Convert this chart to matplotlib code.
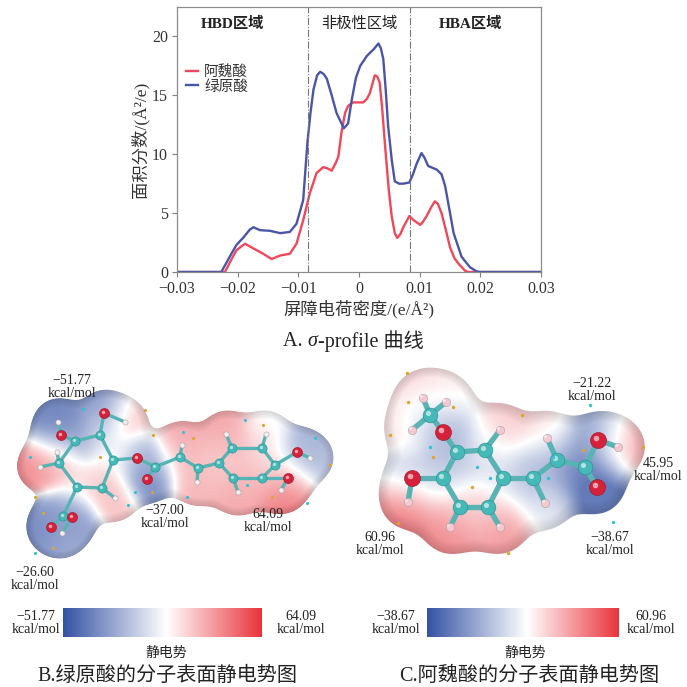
import numpy as np
import matplotlib.pyplot as plt
from matplotlib.colors import LinearSegmentedColormap, Normalize
from matplotlib.cm import ScalarMappable

plt.rcParams['font.family'] = ['Liberation Serif', 'Noto Sans CJK SC', 'DejaVu Sans']

# ---- sigma-profile data ----
sigma_cga = [-0.03, -0.0227, -0.0212, -0.0202, -0.0191, -0.0180, -0.0174, -0.0163, -0.0147,
             -0.0130, -0.0114, -0.0103, -0.0092, -0.0085, -0.0080, -0.0075, -0.0069, -0.0064,
             -0.0058, -0.0053, -0.0045, -0.0037, -0.0025, -0.0018, -0.0012, -0.0005, 0.0002,
             0.0013, 0.0024, 0.0032, 0.0036, 0.0040, 0.0044, 0.0048, 0.0054, 0.0059, 0.0066,
             0.0073, 0.0083, 0.0089, 0.0095, 0.0103, 0.0108, 0.0114, 0.0128, 0.0136, 0.0142,
             0.0149, 0.0156, 0.0169, 0.0183, 0.0194, 0.0200, 0.03]
area_cga = [0, 0, 1.4, 2.3, 2.9, 3.6, 3.8, 3.55, 3.5, 3.3, 3.4, 4.1, 6.1, 11.0, 13.5, 15.5,
            16.7, 17.0, 16.8, 16.4, 15.0, 13.5, 12.2, 12.6, 14.6, 16.5, 17.5, 18.35, 18.9,
            19.4, 19.0, 18.1, 15.5, 12.4, 9.5, 7.7, 7.5, 7.5, 7.6, 8.3, 9.2, 10.1, 9.7, 9.0,
            8.7, 8.3, 7.3, 5.3, 3.3, 1.3, 0.4, 0.05, 0, 0]

sigma_fa = [-0.03, -0.0221, -0.0212, -0.0202, -0.0188, -0.0174, -0.0158, -0.0144, -0.0130,
            -0.0114, -0.0103, -0.0092, -0.0081, -0.0070, -0.0059, -0.0052, -0.0045, -0.0038,
            -0.0034, -0.0029, -0.0023, -0.0018, -0.0010, -0.0004, 0.0007, 0.0013, 0.0018,
            0.0026, 0.0030, 0.0034, 0.0038, 0.0043, 0.0049, 0.0054, 0.0059, 0.0063, 0.0068,
            0.0073, 0.0083, 0.0090, 0.0101, 0.0106, 0.0112, 0.0119, 0.0125, 0.0130, 0.0136,
            0.0143, 0.0150, 0.0157, 0.0164, 0.0175, 0.0180, 0.03]
area_fa = [0, 0, 0.9, 1.85, 2.4, 2.0, 1.55, 1.1, 1.4, 1.55, 2.4, 4.4, 6.7, 8.4, 8.9, 8.8,
           8.6, 9.3, 9.8, 11.8, 13.5, 14.1, 14.4, 14.4, 14.4, 14.7, 15.2, 16.7, 16.6, 16.1,
           14.0, 10.7, 7.0, 4.7, 3.3, 2.9, 3.2, 3.8, 4.75, 4.4, 4.0, 4.3, 4.8, 5.5, 6.0, 5.8,
           5.0, 3.6, 2.1, 1.2, 0.7, 0.1, 0, 0]

hb_cut = 0.0084
xtick_vals = [-0.03, -0.02, -0.01, 0, 0.01, 0.02, 0.03]
xtick_text = ['\u22120.03', '\u22120.02', '\u22120.01', '0', '0.01', '0.02', '0.03']
ytick_vals = [0, 5, 10, 15, 20]

# ---- ESP surface data: element, x px, y px, potential kcal/mol ----
cga_el = ['O', 'H', 'C', 'O', 'H', 'C', 'C', 'H', 'H', 'C', 'C', 'H', 'C', 'C', 'O', 'O', 'H',
          'O', 'C', 'O', 'C', 'H', 'C', 'H', 'C', 'C', 'C', 'C', 'C', 'C', 'H', 'H', 'H',
          'O', 'H', 'O', 'H']
cga_x = [104, 125, 100, 61, 58, 75, 59, 40, 57, 77, 102, 115, 113, 63, 51, 72, 62,
         137, 155, 147, 180, 182, 198, 197, 219, 232, 262, 275, 262, 233, 226, 266, 238,
         297, 310, 288, 281]
cga_y = [413, 422, 435, 435, 422, 441, 463, 467, 452, 487, 488, 498, 460, 516, 527, 517, 533,
         458, 467, 479, 457, 445, 468, 482, 463, 448, 448, 465, 478, 478, 434, 434, 492,
         452, 458, 478, 490]
cga_esp = [-40, 30, -5, -52, -45, -35, 35, 50, 25, 15, 30, 30, 15, -30, -50, -40, -25,
           -20, -30, -50, 30, 40, 30, 35, 25, 30, 30, 15, 30, 30, 40, 5, 40,
           -30, -20, 30, 60]
cga_bonds = [(0, 1), (0, 2), (2, 5), (5, 3), (3, 4), (5, 6), (6, 7), (6, 8), (6, 9), (9, 10),
             (10, 11), (10, 12), (12, 2), (9, 13), (13, 14), (13, 15), (15, 16), (12, 17),
             (17, 18), (18, 19), (18, 20), (20, 21), (20, 22), (22, 23), (22, 24), (24, 25),
             (25, 26), (26, 27), (27, 28), (28, 29), (29, 24), (25, 30), (26, 31), (29, 32),
             (27, 33), (33, 34), (28, 35), (35, 36)]
cga_range = (-51.77, 64.09)

fa_el = ['C', 'H', 'H', 'H', 'O', 'C', 'C', 'C', 'C', 'C', 'C', 'O', 'H', 'H', 'H', 'H',
         'C', 'C', 'H', 'H', 'C', 'O', 'H', 'O']
fa_x = [430, 423, 412, 446, 443, 457, 485, 503, 488, 460, 443, 412, 408, 500, 450, 500,
        533, 557, 547, 545, 585, 598, 618, 597]
fa_y = [415, 398, 430, 402, 432, 452, 450, 478, 507, 507, 478, 478, 502, 430, 527, 527,
        478, 460, 438, 503, 467, 440, 447, 487]
fa_esp = [-15, 30, 25, 20, -25, -10, 5, 0, 25, 25, -5, -10, 55, 30, 50, 45,
          -15, -25, 25, 5, -38, -30, 45, -48]
fa_bonds = [(0, 1), (0, 2), (0, 3), (0, 4), (4, 5), (5, 6), (6, 7), (7, 8), (8, 9), (9, 10),
            (10, 5), (10, 11), (11, 12), (6, 13), (9, 14), (8, 15), (7, 16), (16, 17),
            (16, 19), (17, 18), (17, 20), (20, 21), (21, 22), (20, 23)]
fa_range = (-38.67, 60.96)

# surface extrema points (small dots)
cga_dot_y_x = [145, 153, 193, 263, 330, 272, 152, 35, 53, 43, 100]
cga_dot_y_y = [410, 435, 438, 425, 465, 497, 492, 497, 548, 513, 457]
cga_dot_c_x = [83, 245, 315, 307, 187, 135, 128, 30, 35, 183, 247]
cga_dot_c_y = [409, 420, 438, 503, 497, 492, 505, 457, 553, 432, 485]
fa_dot_y_x = [407, 408, 453, 390, 433, 522, 472, 398, 508, 643, 583]
fa_dot_y_y = [373, 402, 407, 435, 457, 415, 487, 523, 553, 447, 450]
fa_dot_c_x = [430, 477, 490, 548, 590, 613, 553]
fa_dot_c_y = [447, 467, 478, 478, 405, 522, 457]

W, H = 687, 687
esp_cmap = LinearSegmentedColormap.from_list(
    'esp', [(0, '#3452a4'), (0.52, '#ffffff'), (1, '#e8333b')])


def frac(x0, y0, x1, y1):
    return [x0 / W, 1 - y1 / H, (x1 - x0) / W, (y1 - y0) / H]


fig = plt.figure(figsize=(6.87, 6.87), dpi=100)

# ---------------- A. sigma-profile ----------------
ax = fig.add_axes(frac(177, 7, 541, 272))
ax.set_zorder(3)
ax.plot(sigma_fa, area_fa, color='#f0475a', lw=1.7, label='阿魏酸')
ax.plot(sigma_cga, area_cga, color='#4a55a8', lw=1.7, label='绿原酸')
ax.axvline(-hb_cut, color='#777777', lw=0.8, ls='-.')
ax.axvline(hb_cut, color='#777777', lw=0.8, ls='-.')
ax.set_xlim(-0.03, 0.03)
ax.set_ylim(0, 22.5)
ax.set_xticks(xtick_vals)
ax.set_xticklabels(xtick_text)
ax.set_yticks(ytick_vals)
ax.tick_params(labelsize=11.5, length=3.5, width=0.8, color='#808080', labelcolor='#333333',
               pad=3)
for sp in ax.spines.values():
    sp.set_color('#8c8c8c')
    sp.set_linewidth(0.9)
ax.set_xlabel('屏障电荷密度/(e/Å²)', fontsize=12.5, color='#333333', labelpad=2)
ax.set_ylabel('面积分数/(Å²/e)', fontsize=12.5, color='#333333', labelpad=2)
ax.text(-0.0209, 21.1, 'HBD区域', ha='center', va='center', fontsize=11,
        fontweight='bold', color='#222222')
ax.text(0.0, 21.1, '非极性区域', ha='center', va='center', fontsize=11, color='#222222')
ax.text(0.0183, 21.1, 'HBA区域', ha='center', va='center', fontsize=11,
        fontweight='bold', color='#222222')
ax.legend(loc='upper left', bbox_to_anchor=(-0.01, 0.83), frameon=False, fontsize=10.5,
          handlelength=0.8, handletextpad=0.4, labelspacing=0.05, labelcolor='#333333')

# ---------------- overlay in pixel coordinates ----------------
axm = fig.add_axes([0, 0, 1, 1])
axm.set_zorder(1)
axm.axis('off')


def draw_surface(xs, ys, vals, vrange, spread, level, box):
    xs = np.asarray(xs, float)
    ys = np.asarray(ys, float)
    vals = np.asarray(vals, float)
    x0, x1, y0, y1 = box
    gx, gy = np.meshgrid(np.arange(x0, x1) + 0.5, np.arange(y0, y1) + 0.5)
    d2 = (gx[..., None] - xs) ** 2 + (gy[..., None] - ys) ** 2
    w = np.exp(-d2 / (2 * spread ** 2))
    field = w.sum(-1)
    pot = (w * vals).sum(-1) / np.maximum(field, 1e-12)
    norm = Normalize(*vrange)
    rgb = esp_cmap(norm(pot))[..., :3] * 0.8 + 0.2
    shade = np.clip((field - level) / (1.5 * level), 0, 1)
    rgb = rgb * (0.84 + 0.16 * shade)[..., None]
    alpha = np.clip((field - level) / (0.1 * level), 0, 1) * 0.95
    img = np.dstack([rgb, alpha])
    axm.imshow(img, extent=(x0, x1, y1, y0), interpolation='bilinear', zorder=1)


def draw_balls(el, xs, ys, bonds, scale, pink_h=False):
    for i, j in bonds:
        axm.plot([xs[i], xs[j]], [ys[i], ys[j]], color='#58b4b4', lw=2.4 * scale,
                 solid_capstyle='round', zorder=2)
    sizes = {'C': 44, 'O': 52, 'H': 14}
    colors = {'C': '#45b8b8', 'O': '#d5213a', 'H': '#f4c8d0' if pink_h else '#eeeeee'}
    edges = {'C': '#2b8c8c', 'O': '#9c1226', 'H': '#b0a0a0'}
    for e in ['H', 'C', 'O']:
        idx = [k for k, s in enumerate(el) if s == e]
        axm.scatter([xs[k] for k in idx], [ys[k] for k in idx], s=sizes[e] * scale ** 2,
                    c=colors[e], edgecolors=edges[e], linewidths=0.4, zorder=3)
        axm.scatter([xs[k] - 1.2 * scale for k in idx], [ys[k] - 1.2 * scale for k in idx],
                    s=sizes[e] * scale ** 2 * 0.12, c='white', alpha=0.6, lw=0, zorder=4)


# B. chlorogenic acid
draw_surface(cga_x, cga_y, cga_esp, cga_range, 14.5, 0.3, (0, 350, 355, 600))
draw_balls(cga_el, cga_x, cga_y, cga_bonds, 1.0)
axm.scatter(cga_dot_y_x, cga_dot_y_y, s=5, c='#e0a526', lw=0, zorder=5)
axm.scatter(cga_dot_c_x, cga_dot_c_y, s=5, c='#36c0d0', lw=0, zorder=5)

# C. ferulic acid
draw_surface(fa_x, fa_y, fa_esp, fa_range, 18, 0.35, (355, 687, 345, 600))
draw_balls(fa_el, fa_x, fa_y, fa_bonds, 1.6, pink_h=True)
axm.scatter(fa_dot_y_x, fa_dot_y_y, s=6, c='#e0a526', lw=0, zorder=5)
axm.scatter(fa_dot_c_x, fa_dot_c_y, s=6, c='#36c0d0', lw=0, zorder=5)

axm.set_xlim(0, W)
axm.set_ylim(H, 0)
axm.set_aspect('auto')

lab = dict(ha='center', va='center', fontsize=10, color='#222222', linespacing=1.0, zorder=6)
axm.text(72, 387, '\u221251.77\nkcal/mol', **lab)
axm.text(165, 517, '\u221237.00\nkcal/mol', **lab)
axm.text(268, 521, '64.09\nkcal/mol', **lab)
axm.text(35, 579, '\u221226.60\nkcal/mol', **lab)
axm.text(592, 390, '\u221221.22\nkcal/mol', **lab)
axm.text(658, 470, '45.95\nkcal/mol', **lab)
axm.text(610, 544, '\u221238.67\nkcal/mol', **lab)
axm.text(380, 544, '60.96\nkcal/mol', **lab)

# colour bars
for rng, box, lpos, rpos, mid in [
        (cga_range, (63, 608, 262, 637), (36, 623), (301, 623), (166, 653)),
        (fa_range, (427, 608, 619, 637), (396, 623), (651, 623), (525, 653))]:
    cax = fig.add_axes(frac(*box))
    cb = fig.colorbar(ScalarMappable(norm=Normalize(*rng), cmap=esp_cmap), cax=cax,
                      orientation='horizontal')
    cb.set_ticks([])
    cb.outline.set_visible(False)
    axm.text(lpos[0], lpos[1], '\u2212%.2f\nkcal/mol' % abs(rng[0]), **lab)
    axm.text(rpos[0], rpos[1], '%.2f\nkcal/mol' % rng[1], **lab)
    axm.text(mid[0], mid[1], '静电势', ha='center', va='center', fontsize=10, color='#222222')

cap = dict(fontsize=14.5, color='#222222')
t1 = axm.text(283, 342, 'A. ', ha='left', va='center', **cap)
t2 = axm.annotate('σ', xy=(1, 0), xycoords=t1, ha='left', va='bottom', style='italic', **cap)
axm.annotate('-profile 曲线', xy=(1, 0), xycoords=t2, ha='left', va='bottom', **cap)
axm.text(167, 676, 'B.绿原酸的分子表面静电势图', ha='center', va='center', **cap)
axm.text(529, 676, 'C.阿魏酸的分子表面静电势图', ha='center', va='center', **cap)

fig.savefig('out.png', dpi=100, facecolor='white')
